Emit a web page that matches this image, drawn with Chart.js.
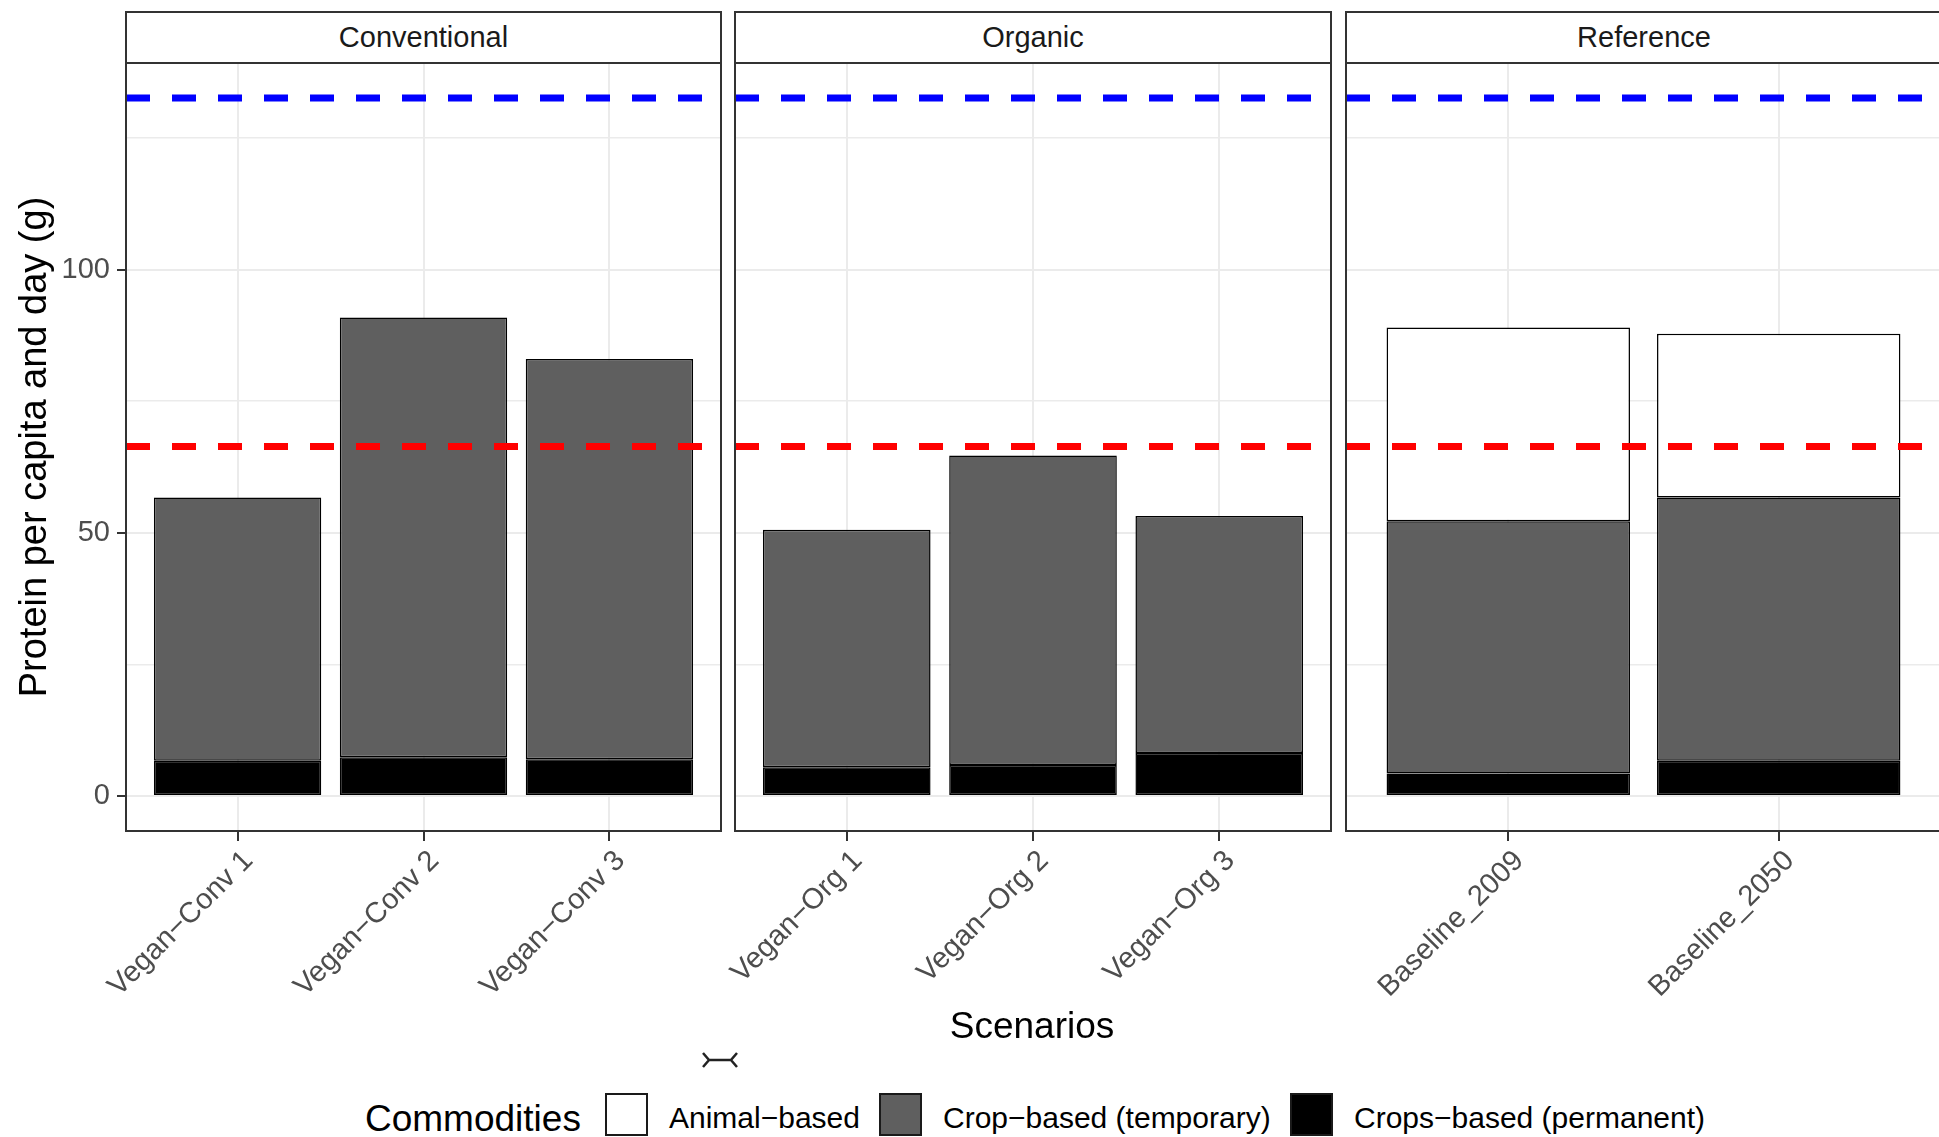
<!DOCTYPE html>
<html>
<head>
<meta charset="utf-8">
<title>Protein per capita and day by scenario</title>
<script src="https://cdn.jsdelivr.net/npm/chart.js@4.4.1/dist/chart.umd.min.js"></script>
<style>
  html, body { margin: 0; padding: 0; background: #fff; overflow: hidden; }
  #fig { position: relative; width: 1939px; height: 1137px; overflow: hidden; background: #fff;
         font-family: 'Liberation Sans', Arial, sans-serif; }
  canvas { position: absolute; }
  .strip { position: absolute; top: 11px; height: 53px; box-sizing: border-box; border: 2px solid #333;
           background: #fff; color: #1a1a1a; font-size: 29px; display: flex; align-items: center;
           justify-content: center; }
  .txt { position: absolute; line-height: 1; white-space: nowrap; color: #000; }
  .key { position: absolute; top: 1093px; width: 43px; height: 43px; box-sizing: border-box;
         border: 2px solid #1a1a1a; }
</style>
</head>
<body>
<div id="fig">
  <div class="strip" style="left:125px;width:597px;">Conventional</div>
  <div class="strip" style="left:734px;width:598px;">Organic</div>
  <div class="strip" style="left:1345px;width:598px;">Reference</div>

  <canvas id="conv" width="731" height="980" style="left:0px;top:53px;"></canvas>
  <canvas id="org" width="616" height="980" style="left:725px;top:53px;"></canvas>
  <canvas id="ref" width="615" height="980" style="left:1336px;top:53px;"></canvas>

  <div class="txt" style="left:1032px;top:1007px;font-size:37px;transform:translateX(-50%);">Scenarios</div>

  <svg style="position:absolute;left:700px;top:1050px;" width="40" height="20" viewBox="0 0 40 20">
    <path d="M3 3 L9 10 L3 17 M37 3 L31 10 L37 17 M8 10 H32" stroke="#222" stroke-width="2.5" fill="none"/>
  </svg>

  <div class="txt" style="left:365px;top:1100px;font-size:37px;">Commodities</div>
  <div class="key" style="left:605px;background:#ffffff;"></div>
  <div class="txt" style="left:669px;top:1103px;font-size:30px;">Animal−based</div>
  <div class="key" style="left:879px;background:#5f5f5f;"></div>
  <div class="txt" style="left:943px;top:1103px;font-size:30px;">Crop−based (temporary)</div>
  <div class="key" style="left:1290px;background:#000000;"></div>
  <div class="txt" style="left:1354px;top:1103px;font-size:30px;">Crops−based (permanent)</div>
</div>

<script>
// ---- data (g protein per capita and day) ----
const convScenarios = ['Vegan−Conv 1', 'Vegan−Conv 2', 'Vegan−Conv 3'];
const convPermanent = [6.7, 7.4, 7.0];
const convTemporary = [50.0, 83.5, 76.0];
const convAnimal    = [0, 0, 0];

const orgScenarios  = ['Vegan−Org 1', 'Vegan−Org 2', 'Vegan−Org 3'];
const orgPermanent  = [5.5, 5.9, 8.2];
const orgTemporary  = [45.1, 58.8, 45.0];
const orgAnimal     = [0, 0, 0];

const refScenarios  = ['Baseline_2009', 'Baseline_2050'];
const refPermanent  = [4.3, 6.7];
const refTemporary  = [47.9, 50.0];
const refAnimal     = [36.8, 31.1];

const upperLine = 132.6;   // blue dashed reference
const lowerLine = 66.4;    // red dashed reference

const yTickLabels = [0, 50, 100];
const yLimits = [-6.63, 139.23];

// ---- shared styling ----
const FONT = "'Liberation Sans', Arial, sans-serif";
Chart.defaults.font.family = FONT;

const panelBorder = {
  id: 'panelBorder',
  afterDraw(chart) {
    const { ctx, chartArea: a } = chart;
    ctx.save();
    ctx.strokeStyle = '#333333';
    ctx.lineWidth = 2;
    ctx.strokeRect(a.left, a.top, a.right - a.left, a.bottom - a.top);
    ctx.restore();
  }
};

const isMajor = v => yTickLabels.includes(v);

function facetChart(id, labels, permanent, temporary, animal, showY) {
  const n = labels.length;
  const xmin = 0.4, xmax = n + 0.6;
  const pts = arr => arr.map((v, i) => ({ x: i + 1, y: v }));
  const hline = v => [{ x: xmin, y: v }, { x: xmax, y: v }];
  const bar = (label, arr, fill) => ({
    label, data: pts(arr), backgroundColor: fill, borderColor: '#000000', borderWidth: 1.5,
    borderSkipped: false, stack: 'commodities', order: 1,
    barPercentage: 0.9, categoryPercentage: 1.0
  });
  const dash = (label, v, color) => ({
    type: 'line', label, data: hline(v), borderColor: color, borderWidth: 7,
    borderDash: [24, 22], borderCapStyle: 'butt', pointRadius: 0, fill: false,
    stack: label, order: 0
  });

  return new Chart(document.getElementById(id), {
    type: 'bar',
    data: {
      datasets: [
        dash('upper', upperLine, '#0000FF'),
        dash('lower', lowerLine, '#FF0000'),
        bar('Crops−based (permanent)', permanent, '#000000'),
        bar('Crop−based (temporary)', temporary, '#5F5F5F'),
        bar('Animal−based', animal, '#FFFFFF')
      ]
    },
    options: {
      responsive: false,
      animation: false,
      devicePixelRatio: 1,
      events: [],
      layout: { padding: { left: showY ? 0 : 10, right: 10, top: 10, bottom: 0 } },
      plugins: { legend: { display: false }, tooltip: { enabled: false } },
      scales: {
        x: {
          type: 'linear', min: xmin, max: xmax, offset: false,
          grid: { offset: false, color: '#EBEBEB', lineWidth: 2, tickColor: '#333333', tickLength: 10, tickWidth: 2 },
          border: { display: false },
          ticks: {
            stepSize: 1, includeBounds: false, autoSkip: false, maxRotation: 45, minRotation: 45,
            padding: 3, labelOffset: 11, color: '#4D4D4D', font: { size: 29 },
            callback: v => labels[v - 1] ?? ''
          },
          afterFit: s => { s.height = 202; s.paddingLeft = 0; s.paddingRight = 0; }
        },
        y: {
          min: yLimits[0], max: yLimits[1], stacked: true,
          grid: {
            offset: false,
            color: '#EBEBEB',
            lineWidth: c => (c.tick && isMajor(c.tick.value)) ? 2 : 1.5,
            tickColor: c => (c.tick && isMajor(c.tick.value)) ? '#333333' : 'rgba(0,0,0,0)',
            tickLength: 9, tickWidth: 2, drawTicks: showY
          },
          border: { display: false },
          ticks: {
            display: showY, stepSize: 25, includeBounds: false, padding: 7,
            color: '#4D4D4D', font: { size: 29 },
            callback: v => isMajor(v) ? String(v) : ''
          },
          title: {
            display: showY, text: 'Protein per capita and day (g)', color: '#000000',
            font: { size: 38 }, padding: { top: 13, bottom: 0 }
          },
          afterFit: s => { s.width = showY ? 126 : 0; s.paddingTop = 0; s.paddingBottom = 0; }
        }
      }
    },
    plugins: [panelBorder]
  });
}

facetChart('conv', convScenarios, convPermanent, convTemporary, convAnimal, true);
facetChart('org', orgScenarios, orgPermanent, orgTemporary, orgAnimal, false);
facetChart('ref', refScenarios, refPermanent, refTemporary, refAnimal, false);
</script>
</body>
</html>
